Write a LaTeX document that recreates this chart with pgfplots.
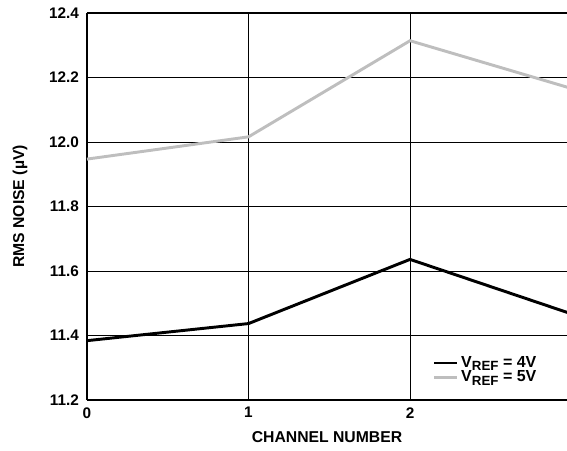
\documentclass[border=0pt]{standalone}
\usepackage{pgfplots}
\pgfplotsset{compat=1.18}
\usepackage{fontspec}
\setmainfont{Liberation Sans}
\usetikzlibrary{calc}
\definecolor{refgray}{RGB}{190,190,190}
\newcommand{\vref}{V\raisebox{-0.4ex}{\fontsize{10}{10}\selectfont REF}}

\begin{document}
\begin{tikzpicture}
\begin{axis}[
    scale only axis,
    width=360pt, height=290.25pt,
    xmin=0, xmax=2.972,
    ymin=11.2, ymax=12.4,
    axis x line=box, axis y line=left,
    axis line style={-, line width=1.1pt},
    xtick={0,1,2}, ytick={11.2,11.4,...,12.4},
    major tick length=0pt,
    grid=major,
    grid style={black, line width=0.7pt},
    /pgf/number format/assume math mode=true,
    yticklabel style={/pgf/number format/fixed, /pgf/number format/fixed zerofill,
        /pgf/number format/precision=1, xshift=-2.5pt},
    tick label style={font=\fontsize{11.5}{12}\selectfont\bfseries},
    xticklabel style={yshift=-2pt},
    xlabel={CHANNEL NUMBER},
    ylabel={RMS NOISE (µV)},
    every axis x label/.style={at={(rel axis cs:0.5,0)}, yshift=-27.75pt, anchor=center,
        font=\fontsize{11.8}{12}\selectfont\bfseries},
    every axis y label/.style={at={(rel axis cs:0,0.5)}, xshift=-50.25pt, rotate=90, anchor=center,
        font=\fontsize{11.8}{12}\selectfont\bfseries},
    legend style={draw=none, fill=none, at={(rel axis cs:0.72,0.12)}, anchor=north west,
        font=\fontsize{12}{10}\selectfont\bfseries, row sep=-3pt, inner sep=0pt},
    legend cell align=left,
]
\addplot[black, line width=2.2pt] coordinates {
    (0,11.384) (1,11.437) (2,11.636) (3,11.467)
};
\addlegendentry{\vref{} = 4V}
\addplot[refgray, line width=2.2pt] coordinates {
    (0,11.947) (1,12.016) (2,12.314) (3,12.166)
};
\addlegendentry{\vref{} = 5V}
\end{axis}
\pgfresetboundingbox
\path ($(current axis.south west)+(-65.25pt,-37.5pt)$) rectangle ($(current axis.north east)+(0pt,9.75pt)$);
\end{tikzpicture}
\end{document}
